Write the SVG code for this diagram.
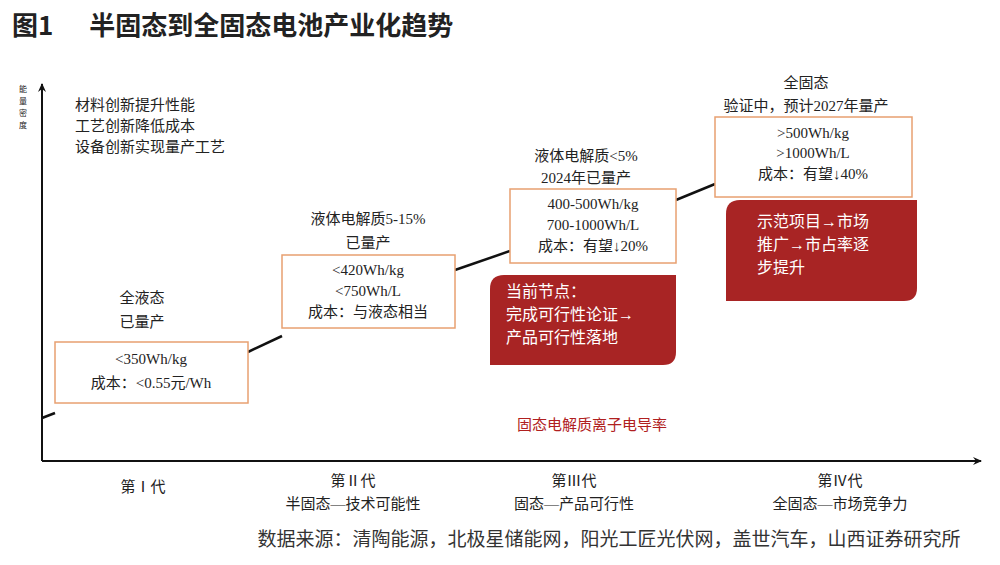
<svg xmlns="http://www.w3.org/2000/svg" width="1000" height="565" viewBox="0 0 1000 565">
<style>
text{font-family:"Liberation Serif","Noto Sans CJK SC",serif;fill:#222;font-size:15px;text-anchor:middle}
.t{font-family:"Noto Sans CJK SC",sans-serif;font-weight:bold;font-size:26px;text-anchor:start;fill:#222}
.s{font-family:"Noto Sans CJK SC",sans-serif;font-size:19px;fill:#333}
.v{font-family:"Noto Sans CJK SC",sans-serif;font-size:8px}
.l{text-anchor:start}
.w{fill:#fff;text-anchor:start;font-size:16px}
.box{fill:#fff;stroke:#e8a070;stroke-width:1.5}
.red{fill:#a82424}
.ax{stroke:#111;stroke-width:2;fill:none}
</style>
<defs><marker id="a" markerWidth="10" markerHeight="10" refX="8" refY="5" orient="auto" markerUnits="userSpaceOnUse"><path d="M0,1 L9,5 L0,9 L3,5Z" fill="#111"/></marker></defs>
<rect width="1000" height="565" fill="#fff"/>
<text class="t" x="12" y="35">图1<tspan dx="36">半固态到全固态电池产业化趋势</tspan></text>
<g id="axes">
<line class="ax" x1="42" y1="461" x2="42" y2="84" marker-end="url(#a)"/>
<line class="ax" x1="42" y1="461" x2="981" y2="461" marker-end="url(#a)"/>
<text class="v" x="23" y="92">能</text><text class="v" x="23" y="104">量</text><text class="v" x="23" y="116">密</text><text class="v" x="23" y="128">度</text>
</g>
<g id="connectors" stroke="#111" stroke-width="2.5" fill="none">
<path d="M42,418 L55,413"/><path d="M248,352 L282,336"/><path d="M455,270 L510,251"/><path d="M676,200 L715,184"/>
</g>
<g id="notes"><text class="l" x="75" y="110">材料创新提升性能</text><text class="l" x="75" y="131">工艺创新降低成本</text><text class="l" x="75" y="152">设备创新实现量产工艺</text></g>
<g id="gen1"><text x="142" y="303">全液态</text><text x="142" y="327">已量产</text>
<rect class="box" x="55" y="342" width="193" height="61"/><text x="151" y="364">&lt;350Wh/kg</text><text x="151" y="388">成本：&lt;0.55元/Wh</text></g>
<g id="gen2"><text x="368" y="224">液体电解质5-15%</text><text x="368" y="248">已量产</text>
<rect class="box" x="282" y="255" width="173" height="73"/><text x="368" y="275">&lt;420Wh/kg</text><text x="368" y="296">&lt;750Wh/L</text><text x="368" y="317">成本：与液态相当</text></g>
<g id="gen3"><text x="586" y="161">液体电解质&lt;5%</text><text x="586" y="183">2024年已量产</text>
<rect class="box" x="510" y="189" width="166" height="74"/><text x="593" y="209">400-500Wh/kg</text><text x="593" y="230">700-1000Wh/L</text><text x="593" y="251">成本：有望↓20%</text></g>
<g id="gen4"><text x="806" y="88">全固态</text><text x="806" y="111">验证中，预计2027年量产</text>
<rect class="box" x="715" y="117" width="197" height="80"/><text x="813" y="138">&gt;500Wh/kg</text><text x="813" y="158">&gt;1000Wh/L</text><text x="813" y="179">成本：有望↓40%</text></g>
<g id="red1"><path class="red" d="M504,275 H676 V352 Q676,365 663,365 H490 V289 Q490,275 504,275Z"/>
<text class="w" x="506" y="297">当前节点：</text><text class="w" x="506" y="320">完成可行性论证→</text><text class="w" x="506" y="343">产品可行性落地</text></g>
<g id="red2"><path class="red" d="M740,200 H917 V288 Q917,301 904,301 H726 V214 Q726,200 740,200Z"/>
<text class="w" x="757" y="227">示范项目→市场</text><text class="w" x="757" y="250">推广→市占率逐</text><text class="w" x="757" y="273">步提升</text></g>
<text x="592" y="430" style="fill:#b02020">固态电解质离子电导率</text>
<g id="xlabels"><text x="143" y="492">第Ⅰ代</text><text x="353" y="486">第Ⅱ代</text><text x="353" y="509">半固态—技术可能性</text>
<text x="574" y="486">第Ⅲ代</text><text x="574" y="509">固态—产品可行性</text><text x="840" y="486">第Ⅳ代</text><text x="840" y="509">全固态—市场竞争力</text></g>
<text class="s" x="609" y="546">数据来源：清陶能源，北极星储能网，阳光工匠光伏网，盖世汽车，山西证券研究所</text>
</svg>
